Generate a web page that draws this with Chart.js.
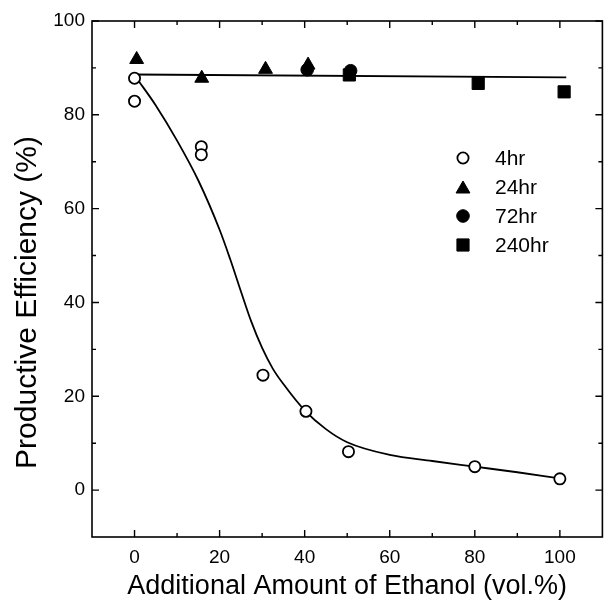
<!DOCTYPE html>
<html>
<head>
<meta charset="utf-8">
<script src="https://cdn.jsdelivr.net/npm/chart.js@4/dist/chart.umd.min.js"></script>
<style>
  html, body { margin: 0; padding: 0; background: #fff; overflow: hidden; }
  #wrap { position: relative; width: 612px; height: 603px; }
</style>
</head>
<body>
<div id="wrap"><canvas id="chart"></canvas></div>
<script>
const hr4X = [0, 0, 15.7, 15.7, 30.2, 40.3, 50.3, 80, 100];
const hr4Y = [87.8, 82.9, 73.2, 71.5, 24.5, 16.8, 8.2, 5.0, 2.4];
const hr24X = [0.5, 15.8, 30.8, 40.8];
const hr24Y = [91.8, 87.8, 89.7, 90.6];
const hr72X = [40.6, 50.8];
const hr72Y = [89.6, 89.4];
const hr240X = [50.5, 80.8, 101];
const hr240Y = [88.5, 86.7, 84.9];

// 피팅 곡선
const flatFitX = [0, 101.5];
const flatFitY = [88.6, 88.0];
const curveFitX = [0.5, 5, 10, 15, 20, 22.5, 25, 27.5, 30, 32.5, 35, 40, 45, 50, 60, 70, 80, 90, 100];
const curveFitY = [87.8, 82, 74.5, 66, 55.5, 49.2, 42.4, 35.8, 30.3, 25.9, 22.6, 17.0, 13.0, 10.2, 7.5, 6.2, 5.0, 3.8, 2.5];

const xTicks = [0, 20, 40, 60, 80, 100];
const yTicks = [0, 20, 40, 60, 80, 100];
const xMinor = [10, 30, 50, 70, 90];
const yMinor = [10, 30, 50, 70, 90];

const legendLabels = ['4hr', '24hr', '72hr', '240hr'];
const yTitle = 'Productive Efficiency (%)';

const toPoints = (xs, ys) => xs.map((x, i) => ({ x: x, y: ys[i] }));
const FONT = "'Liberation Sans', Arial, sans-serif";

// 프레임 + 안쪽 눈금 + y축 제목
const framePlugin = {
    id: 'frame',
    afterDraw(chart) {
        const { ctx, chartArea: a, scales: { x, y } } = chart;
        ctx.save();
        ctx.strokeStyle = '#000';
        ctx.lineWidth = 1.6;
        ctx.strokeRect(a.left, a.top, a.right - a.left, a.bottom - a.top);
        ctx.lineWidth = 1.4;
        ctx.beginPath();
        const tickX = (vals, len) => vals.forEach(v => {
            const px = x.getPixelForValue(v);
            ctx.moveTo(px, a.bottom); ctx.lineTo(px, a.bottom - len);
            ctx.moveTo(px, a.top); ctx.lineTo(px, a.top + len);
        });
        const tickY = (vals, len) => vals.forEach(v => {
            const py = y.getPixelForValue(v);
            ctx.moveTo(a.left, py); ctx.lineTo(a.left + len, py);
            ctx.moveTo(a.right, py); ctx.lineTo(a.right - len, py);
        });
        tickX(xTicks, 7); tickX(xMinor, 4);
        tickY(yTicks, 7); tickY(yMinor, 4);
        ctx.stroke();

        // y축 제목 (원본처럼 약간 아래쪽)
        ctx.translate(28, y.getPixelForValue(40));
        ctx.rotate(-Math.PI / 2);
        ctx.fillStyle = '#000';
        ctx.font = '30px ' + FONT;
        ctx.textAlign = 'center';
        ctx.textBaseline = 'middle';
        ctx.fillText(yTitle, 0, 0);
        ctx.restore();
    }
};

// 범례 (그래프 안쪽)
const legendPlugin = {
    id: 'innerLegend',
    afterDatasetsDraw(chart) {
        const { ctx } = chart;
        ctx.save();
        const rowY = [158, 187, 216, 245];
        chart.data.datasets.slice(0, 4).forEach((ds, i) => {
            const opts = {
                pointStyle: ds.pointStyle,
                radius: ds.pointRadius,
                borderWidth: ds.pointBorderWidth
            };
            ctx.fillStyle = ds.pointBackgroundColor;
            ctx.strokeStyle = ds.pointBorderColor;
            ctx.lineWidth = ds.pointBorderWidth;
            let cy = rowY[i];
            if (ds.pointStyle === 'triangle') cy += ds.pointRadius / 4;
            Chart.helpers.drawPoint(ctx, opts, 463, cy);
            ctx.fillStyle = '#000';
            ctx.font = '21px ' + FONT;
            ctx.textBaseline = 'middle';
            ctx.textAlign = 'left';
            ctx.fillText(legendLabels[i], 495, rowY[i] + 1);
        });
        ctx.restore();
    }
};

const ctx = document.getElementById('chart');
new Chart(ctx, {
    type: 'scatter',
    data: {
        datasets: [
            {
                label: '4hr',
                data: toPoints(hr4X, hr4Y),
                pointStyle: 'circle',
                pointRadius: 5.6,
                pointBorderWidth: 1.8,
                pointBackgroundColor: '#fff',
                pointBorderColor: '#000',
                order: 1
            },
            {
                label: '24hr',
                data: toPoints(hr24X, hr24Y),
                pointStyle: 'triangle',
                pointRadius: 8,
                pointBorderWidth: 1,
                pointBackgroundColor: '#000',
                pointBorderColor: '#000',
                order: 1
            },
            {
                label: '72hr',
                data: toPoints(hr72X, hr72Y),
                pointStyle: 'circle',
                pointRadius: 6.3,
                pointBorderWidth: 1,
                pointBackgroundColor: '#000',
                pointBorderColor: '#000',
                order: 2
            },
            {
                label: '240hr',
                data: toPoints(hr240X, hr240Y),
                pointStyle: 'rect',
                pointRadius: 8.6,
                pointBorderWidth: 1,
                pointBackgroundColor: '#000',
                pointBorderColor: '#000',
                order: 3
            },
            {
                label: 'fit-flat',
                data: toPoints(flatFitX, flatFitY),
                showLine: true,
                borderColor: '#000',
                borderWidth: 1.8,
                pointRadius: 0,
                order: 10
            },
            {
                label: 'fit-curve',
                data: toPoints(curveFitX, curveFitY),
                showLine: true,
                borderColor: '#000',
                borderWidth: 1.8,
                pointRadius: 0,
                cubicInterpolationMode: 'monotone',
                order: 10
            }
        ]
    },
    options: {
        responsive: true,
        maintainAspectRatio: false,
        animation: false,
        layout: { padding: { top: 21, right: 4, left: 0, bottom: 0 } },
        plugins: {
            legend: { display: false },
            tooltip: { enabled: false }
        },
        scales: {
            x: {
                type: 'linear',
                min: -10,
                max: 110,
                afterBuildTicks: s => { s.ticks = xTicks.map(v => ({ value: v })); },
                afterFit: s => { s.height = 66; },
                grid: { display: false, drawTicks: false },
                border: { display: false },
                ticks: {
                    color: '#000',
                    padding: 9,
                    font: { family: FONT, size: 19 }
                },
                title: {
                    display: true,
                    text: 'Additional Amount of Ethanol (vol.%)',
                    color: '#000',
                    padding: { top: 0, bottom: 0 },
                    font: { family: FONT, size: 27 }
                }
            },
            y: {
                type: 'linear',
                min: -10,
                max: 100,
                afterBuildTicks: s => { s.ticks = yTicks.map(v => ({ value: v })); },
                afterFit: s => { s.width = 92; },
                grid: { display: false, drawTicks: false },
                border: { display: false },
                ticks: {
                    color: '#000',
                    padding: 7,
                    font: { family: FONT, size: 19 }
                },
                title: { display: false }
            }
        }
    },
    plugins: [framePlugin, legendPlugin]
});
</script>
</body>
</html>
